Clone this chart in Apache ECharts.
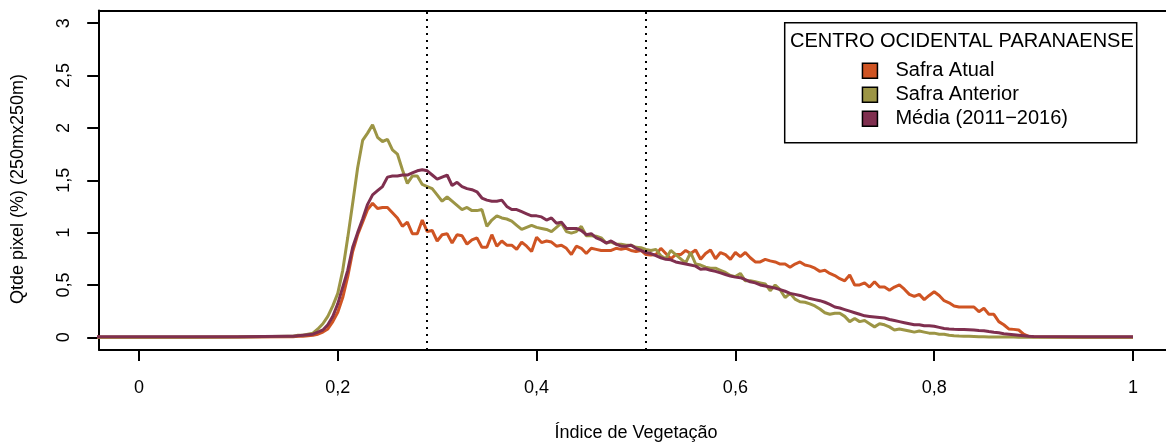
<!DOCTYPE html>
<html>
<head>
<meta charset="utf-8">
<script src="https://cdn.jsdelivr.net/npm/echarts@6/dist/echarts.min.js"></script>
<style>html,body{margin:0;padding:0;background:#fff}#c{width:1166px;height:443px}</style>
</head>
<body>
<div id="c"></div>
<script>
// Índice de Vegetação (x values of the histogram bins)
const ndvi = [-0.05, 0, 0.05, 0.1,
  0.15, 0.155, 0.16, 0.165, 0.17, 0.175, 0.18, 0.185, 0.19, 0.195,
  0.2, 0.205, 0.21, 0.215, 0.22, 0.225, 0.23, 0.235, 0.24, 0.245,
  0.25, 0.255, 0.26, 0.265, 0.27, 0.275, 0.28, 0.285, 0.29, 0.295,
  0.3, 0.305, 0.31, 0.315, 0.32, 0.325, 0.33, 0.335, 0.34, 0.345,
  0.35, 0.355, 0.36, 0.365, 0.37, 0.375, 0.38, 0.385, 0.39, 0.395,
  0.4, 0.405, 0.41, 0.415, 0.42, 0.425, 0.43, 0.435, 0.44, 0.445,
  0.45, 0.455, 0.46, 0.465, 0.47, 0.475, 0.48, 0.485, 0.49, 0.495,
  0.5, 0.505, 0.51, 0.515, 0.52, 0.525, 0.53, 0.535, 0.54, 0.545,
  0.55, 0.555, 0.56, 0.565, 0.57, 0.575, 0.58, 0.585, 0.59, 0.595,
  0.6, 0.605, 0.61, 0.615, 0.62, 0.625, 0.63, 0.635, 0.64, 0.645,
  0.65, 0.655, 0.66, 0.665, 0.67, 0.675, 0.68, 0.685, 0.69, 0.695,
  0.7, 0.705, 0.71, 0.715, 0.72, 0.725, 0.73, 0.735, 0.74, 0.745,
  0.75, 0.755, 0.76, 0.765, 0.77, 0.775, 0.78, 0.785, 0.79, 0.795,
  0.8, 0.805, 0.81, 0.815, 0.82, 0.825, 0.83, 0.835, 0.84, 0.845,
  0.85, 0.855, 0.86, 0.865, 0.87, 0.875, 0.88, 0.885, 0.89, 0.895,
  0.9, 0.95, 1];

const safraAtual = [0, 0, 0, 0.002,
  0.005, 0.005, 0.01, 0.01, 0.015, 0.02, 0.03, 0.05, 0.08, 0.15,
  0.24, 0.38, 0.58, 0.82, 0.98, 1.10, 1.22, 1.28, 1.23, 1.24,
  1.24, 1.19, 1.14, 1.06, 1.10, 0.99, 0.99, 1.12, 1.01, 1.02,
  0.92, 0.98, 0.99, 0.90, 0.98, 0.97, 0.89, 0.93, 0.95, 0.86,
  0.86, 0.98, 0.87, 0.92, 0.88, 0.88, 0.84, 0.91, 0.87, 0.82,
  0.955, 0.905, 0.92, 0.91, 0.87, 0.88, 0.85, 0.79, 0.87, 0.85,
  0.80, 0.85, 0.84, 0.83, 0.83, 0.83, 0.85, 0.84, 0.85, 0.83,
  0.82, 0.83, 0.79, 0.785, 0.79, 0.85, 0.80, 0.75, 0.79, 0.79,
  0.83, 0.80, 0.834, 0.745, 0.80, 0.834, 0.75, 0.81, 0.79, 0.745,
  0.81, 0.77, 0.81, 0.76, 0.72, 0.72, 0.745, 0.73, 0.72, 0.70,
  0.70, 0.67, 0.70, 0.72, 0.69, 0.68, 0.66, 0.63, 0.64, 0.61,
  0.59, 0.56, 0.54, 0.595, 0.50, 0.50, 0.52, 0.48, 0.53, 0.48,
  0.48, 0.45, 0.48, 0.50, 0.46, 0.41, 0.39, 0.41, 0.36, 0.40,
  0.435, 0.40, 0.35, 0.33, 0.30, 0.29, 0.29, 0.29, 0.29, 0.245,
  0.277, 0.22, 0.22, 0.15, 0.12, 0.08, 0.076, 0.07, 0.03, 0.01,
  0.005, 0, 0];

const safraAnterior = [0, 0, 0, 0.003,
  0.01, 0.01, 0.02, 0.02, 0.03, 0.04, 0.08, 0.13, 0.20, 0.30,
  0.42, 0.64, 0.95, 1.28, 1.62, 1.88, 1.95, 2.03, 1.91, 1.87,
  1.89, 1.79, 1.75, 1.60, 1.47, 1.54, 1.54, 1.46, 1.44, 1.42,
  1.36, 1.30, 1.34, 1.30, 1.26, 1.22, 1.24, 1.21, 1.21, 1.22,
  1.06, 1.12, 1.16, 1.14, 1.13, 1.11, 1.07, 1.03, 1.05, 1.07,
  1.05, 1.04, 1.03, 1.01, 1.05, 1.09, 1.01, 0.995, 1.01, 1.06,
  0.97, 0.97, 0.965, 0.95, 0.90, 0.91, 0.89, 0.89, 0.88, 0.88,
  0.86, 0.855, 0.84, 0.83, 0.84, 0.78, 0.75, 0.83, 0.79, 0.75,
  0.71, 0.81, 0.70, 0.69, 0.67, 0.66, 0.66, 0.64, 0.62, 0.59,
  0.58, 0.61, 0.54, 0.54, 0.53, 0.52, 0.51, 0.445, 0.50, 0.455,
  0.38, 0.42, 0.365, 0.34, 0.335, 0.32, 0.30, 0.27, 0.235, 0.22,
  0.23, 0.23, 0.20, 0.15, 0.18, 0.15, 0.16, 0.13, 0.10, 0.13,
  0.12, 0.10, 0.07, 0.08, 0.07, 0.06, 0.05, 0.06, 0.05, 0.04,
  0.04, 0.03, 0.03, 0.02, 0.015, 0.012, 0.01, 0.01, 0.008, 0.006,
  0.005, 0.004, 0.003, 0.003, 0.002, 0.002, 0.002, 0.001, 0.001, 0.001,
  0, 0, 0];

const media = [0.005, 0.005, 0.005, 0.005,
  0.01, 0.01, 0.015, 0.02, 0.025, 0.03, 0.05, 0.07, 0.12, 0.20,
  0.32, 0.48, 0.64, 0.86, 1.00, 1.13, 1.27, 1.36, 1.40, 1.44,
  1.53, 1.54, 1.54, 1.55, 1.55, 1.57, 1.59, 1.60, 1.59, 1.55,
  1.51, 1.53, 1.55, 1.45, 1.48, 1.44, 1.42, 1.41, 1.39, 1.33,
  1.31, 1.30, 1.30, 1.31, 1.25, 1.22, 1.22, 1.20, 1.18, 1.16,
  1.16, 1.15, 1.12, 1.14, 1.09, 1.10, 1.04, 1.04, 1.04, 1.02,
  0.98, 0.99, 0.95, 0.93, 0.90, 0.92, 0.89, 0.87, 0.87, 0.88,
  0.85, 0.83, 0.81, 0.80, 0.78, 0.76, 0.745, 0.74, 0.72, 0.71,
  0.70, 0.69, 0.68, 0.65, 0.655, 0.64, 0.63, 0.615, 0.60, 0.585,
  0.575, 0.57, 0.55, 0.53, 0.52, 0.50, 0.49, 0.48, 0.47, 0.455,
  0.44, 0.42, 0.41, 0.40, 0.385, 0.37, 0.36, 0.35, 0.335, 0.315,
  0.29, 0.28, 0.265, 0.25, 0.235, 0.22, 0.205, 0.20, 0.195, 0.19,
  0.185, 0.17, 0.16, 0.15, 0.14, 0.13, 0.12, 0.12, 0.11, 0.11,
  0.105, 0.095, 0.085, 0.08, 0.077, 0.075, 0.074, 0.072, 0.07, 0.066,
  0.063, 0.055, 0.048, 0.043, 0.035, 0.03, 0.025, 0.02, 0.015, 0.01,
  0.008, 0.005, 0.005];

const seriesNames = ['Safra Atual', 'Safra Anterior', 'Média (2011\u22122016)'];
const legendTitle = 'CENTRO OCIDENTAL PARANAENSE';
const xTickValues = [0, 0.2, 0.4, 0.6, 0.8, 1];
const xTickLabels = ['0', '0,2', '0,4', '0,6', '0,8', '1'];
const yTickValues = [0, 0.5, 1, 1.5, 2, 2.5, 3];
const yTickLabels = ['0', '0,5', '1', '1,5', '2', '2,5', '3'];
const refLines = [0.2935, 0.511];
const xTitle = 'Índice de Vegetação';
const yTitle = 'Qtde pixel (%) (250mx250m)';

const FONT = "'Liberation Sans', Arial, sans-serif";
const colors = ['#CF5423', '#9C9545', '#7F2F4F'];
const pairs = ys => ndvi.map((x, i) => [x, ys[i]]);
const X_MIN = -0.04, X_MAX = 1.0332;   // plot box runs past the right edge of the page
const boxLine = {show: true, onZero: false, lineStyle: {color: '#000', width: 2}};

const chart = echarts.init(document.getElementById('c'), null, {renderer: 'canvas'});
chart.setOption({
  animation: false,
  backgroundColor: '#fff',
  textStyle: {fontFamily: FONT},
  grid: {left: 99.2, top: 10.6, right: 0, height: 339.3, show: false, containLabel: false},
  xAxis: [{
    type: 'value', min: X_MIN, max: X_MAX, position: 'bottom',
    axisLine: boxLine,
    splitLine: {show: false},
    axisTick: {show: true, inside: false, length: 11, customValues: xTickValues,
               lineStyle: {color: '#000', width: 2}},
    axisLabel: {show: true, margin: 29, customValues: xTickValues,
                fontSize: 18, color: '#000', fontFamily: FONT,
                formatter: v => xTickLabels[xTickValues.indexOf(v)] ?? ''}
  }, {
    type: 'value', min: X_MIN, max: X_MAX, position: 'top',
    axisLine: boxLine, axisTick: {show: false}, axisLabel: {show: false},
    splitLine: {show: false}
  }],
  yAxis: {
    type: 'value', min: -0.12, max: 3.12,
    axisLine: boxLine,
    splitLine: {show: false},
    axisTick: {show: true, inside: false, length: 12, customValues: yTickValues,
               lineStyle: {color: '#000', width: 2}},
    axisLabel: {show: true, margin: 35, customValues: yTickValues, rotate: 90,
                align: 'center', verticalAlign: 'middle',
                fontSize: 18, color: '#000', fontFamily: FONT,
                formatter: v => yTickLabels[yTickValues.indexOf(v)] ?? ''}
  },
  legend: {
    orient: 'vertical', left: 861.7, top: 60.7, padding: 0,
    icon: 'rect', itemWidth: 15, itemHeight: 15, itemGap: 4,
    selectedMode: false,
    itemStyle: {borderColor: '#000', borderWidth: 1.5},
    textStyle: {fontSize: 20, color: '#000', fontFamily: FONT, lineHeight: 20,
                padding: [0, 0, 0, 13]},
    data: seriesNames
  },
  graphic: [
    {type: 'rect', shape: {x: 784.7, y: 22.7, width: 352, height: 120},
     style: {fill: 'none', stroke: '#000', lineWidth: 1.5}, z: 10},
    {type: 'text', x: 790, y: 41, z: 10,
     style: {text: legendTitle, font: '20px ' + FONT, fill: '#000',
             textAlign: 'left', textVerticalAlign: 'middle'}},
    {type: 'text', x: 636, y: 433, z: 10,
     style: {text: xTitle, font: '18px ' + FONT, fill: '#000',
             textAlign: 'center', textVerticalAlign: 'middle'}},
    {type: 'text', x: 18, y: 189, rotation: Math.PI / 2, z: 10,
     style: {text: yTitle, font: '18px ' + FONT, fill: '#000',
             textAlign: 'center', textVerticalAlign: 'middle'}}
  ],
  series: [
    {name: seriesNames[0], type: 'line', data: pairs(safraAtual), showSymbol: false,
     symbol: 'none', color: colors[0], lineStyle: {width: 3, color: colors[0]}, clip: true,
     markLine: {silent: true, symbol: ['none', 'none'], label: {show: false},
                lineStyle: {color: '#000', type: [2, 5], width: 2},
                data: refLines.map(v => ({xAxis: v}))}},
    {name: seriesNames[1], type: 'line', data: pairs(safraAnterior), showSymbol: false,
     symbol: 'none', color: colors[1], lineStyle: {width: 3, color: colors[1]}, clip: true},
    {name: seriesNames[2], type: 'line', data: pairs(media), showSymbol: false,
     symbol: 'none', color: colors[2], lineStyle: {width: 3, color: colors[2]}, clip: true}
  ]
});
</script>
</body>
</html>
